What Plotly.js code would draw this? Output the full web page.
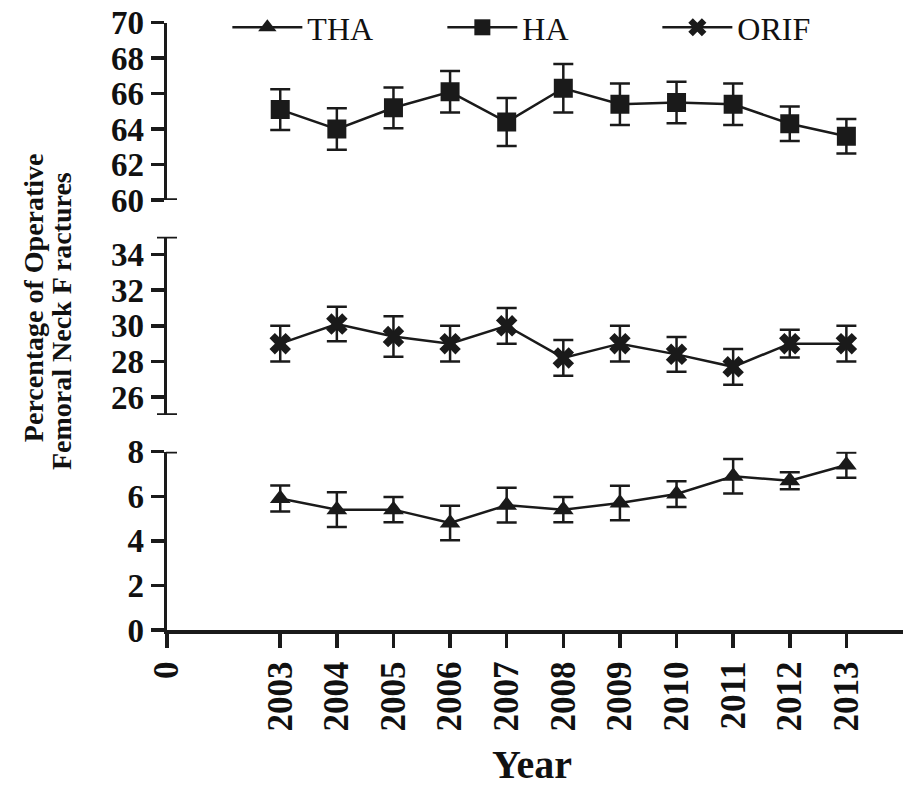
<!DOCTYPE html>
<html>
<head>
<meta charset="utf-8">
<script src="https://cdn.plot.ly/plotly-3.0.1.min.js"></script>
<style>html,body{margin:0;padding:0;background:#fff;}#chart{width:906px;height:788px;}</style>
</head>
<body>
<div id="chart"></div>
<script>
// ---- data ----
const years = [2003, 2004, 2005, 2006, 2007, 2008, 2009, 2010, 2011, 2012, 2013];
const thaMean = [5.9, 5.4, 5.4, 4.8, 5.6, 5.4, 5.7, 6.1, 6.9, 6.7, 7.4];
const thaErr  = [0.58, 0.78, 0.57, 0.77, 0.78, 0.57, 0.77, 0.58, 0.77, 0.38, 0.57];
const haMean  = [65.1, 64.0, 65.2, 66.1, 64.4, 66.3, 65.4, 65.5, 65.4, 64.3, 63.6];
const haErr   = [1.15, 1.17, 1.15, 1.17, 1.35, 1.37, 1.17, 1.17, 1.17, 0.97, 0.97];
const orifMean = [29.0, 30.1, 29.4, 29.0, 30.0, 28.2, 29.0, 28.4, 27.7, 29.0, 29.0];
const orifErr  = [1.0, 0.97, 1.14, 1.0, 1.0, 1.0, 1.0, 0.98, 1.0, 0.78, 1.0];
const xTickVals = [2001, 2003, 2004, 2005, 2006, 2007, 2008, 2009, 2010, 2011, 2012, 2013];
const xTickText = ['0', '2003', '2004', '2005', '2006', '2007', '2008', '2009', '2010', '2011', '2012', '2013'];
const yTicksLow = [0, 2, 4, 6, 8];
const yTicksMid = [26, 28, 30, 32, 34];
const yTicksTop = [60, 62, 64, 66, 68, 70];
const seriesNames = ['THA', 'HA', 'ORIF'];
const yTitleLines = ['Percentage of Operative', 'Femoral Neck F ractures'];
const xTitle = 'Year';

// ---- style ----
const INK = '#1a1a1a';
const SERIF = 'Liberation Serif, Times New Roman, serif';
const AX_W = 3.5;

function errBar(arr) {
  return {type: 'data', array: arr, visible: true, color: INK, thickness: 2.5, width: 10};
}

const traces = [
  {x: years, y: thaMean, name: seriesNames[0], type: 'scatter', mode: 'lines+markers', yaxis: 'y',
   line: {color: INK, width: 2.5}, marker: {symbol: 'triangle-up', size: 18, color: INK},
   error_y: errBar(thaErr)},
  {x: years, y: haMean, name: seriesNames[1], type: 'scatter', mode: 'lines+markers', yaxis: 'y3',
   line: {color: INK, width: 2.5}, marker: {symbol: 'square', size: 19, color: INK},
   error_y: errBar(haErr)},
  {x: years, y: orifMean, name: seriesNames[2], type: 'scatter', mode: 'lines+markers', yaxis: 'y2',
   line: {color: INK, width: 2.5}, marker: {symbol: 'x', size: 19, color: INK},
   error_y: errBar(orifErr)}
];

const xTickFont = {family: SERIF, size: 35, color: '#111', weight: 'bold'};
const yTickFont = {family: SERIF, size: 33, color: '#111', weight: 'bold'};

function yAxis(domain, range, tickvals) {
  return {
    domain: domain, range: range, autorange: false, anchor: 'x',
    tickmode: 'array', tickvals: tickvals,
    ticks: 'outside', ticklen: 13, tickwidth: AX_W, tickcolor: INK,
    showline: true, linewidth: AX_W, linecolor: INK,
    showgrid: false, zeroline: false, tickfont: yTickFont, fixedrange: true
  };
}

function cap(yref, yval, x0, x1) {
  return {type: 'line', xref: 'paper', xsizemode: 'pixel', xanchor: 0, x0: x0, x1: x1,
          yref: yref, y0: yval, y1: yval, line: {color: INK, width: AX_W}};
}

const titleFont = {family: SERIF, size: 28, color: '#111'};

const layout = {
  width: 906, height: 788,
  margin: {l: 167, r: 3, t: 0, b: 158},
  paper_bgcolor: '#fff', plot_bgcolor: '#fff',
  showlegend: true,
  legend: {orientation: 'h', x: 0.082, y: 1.0, xanchor: 'left', yanchor: 'top',
           font: {family: SERIF, size: 32, color: '#111'},
           entrywidth: 130, entrywidthmode: 'pixels', itemwidth: 70,
           bgcolor: 'rgba(0,0,0,0)', traceorder: 'normal'},
  xaxis: {
    domain: [0, 1], range: [2001, 2014], autorange: false, anchor: 'y',
    tickmode: 'array', tickvals: xTickVals, ticktext: xTickText, tickangle: -90,
    ticks: 'outside', ticklen: 14, tickwidth: AX_W, tickcolor: INK,
    showline: true, linewidth: AX_W, linecolor: INK,
    showgrid: false, zeroline: false, tickfont: xTickFont, fixedrange: true
  },
  yaxis: yAxis([0, 0.283], [0, 8], yTicksLow),
  yaxis2: yAxis([0.3413, 0.6243], [25, 35], yTicksMid),
  yaxis3: yAxis([0.6825, 0.964], [60, 70], yTicksTop),
  shapes: [
    cap('y3', 60, -1, 10),
    cap('y2', 25, -10, 10),
    cap('y2', 35, -10, 10),
    cap('y', 8, -1, 10)
  ],
  annotations: [
    {text: '<b>' + yTitleLines[0] + '</b>', textangle: -90,
     xref: 'paper', yref: 'paper', x: -0.181, y: 0.528, xanchor: 'center', yanchor: 'middle',
     showarrow: false, font: titleFont},
    {text: '<b>' + yTitleLines[1] + '</b>', textangle: -90,
     xref: 'paper', yref: 'paper', x: -0.143, y: 0.49, xanchor: 'center', yanchor: 'middle',
     showarrow: false, font: titleFont},
    {text: '<b>' + xTitle + '</b>', xref: 'paper', yref: 'paper', x: 0.496, y: -0.214,
     xanchor: 'center', yanchor: 'middle', showarrow: false,
     font: {family: SERIF, size: 40, color: '#111'}}
  ]
};

Plotly.newPlot('chart', traces, layout, {displayModeBar: false, staticPlot: true});
</script>
</body>
</html>
